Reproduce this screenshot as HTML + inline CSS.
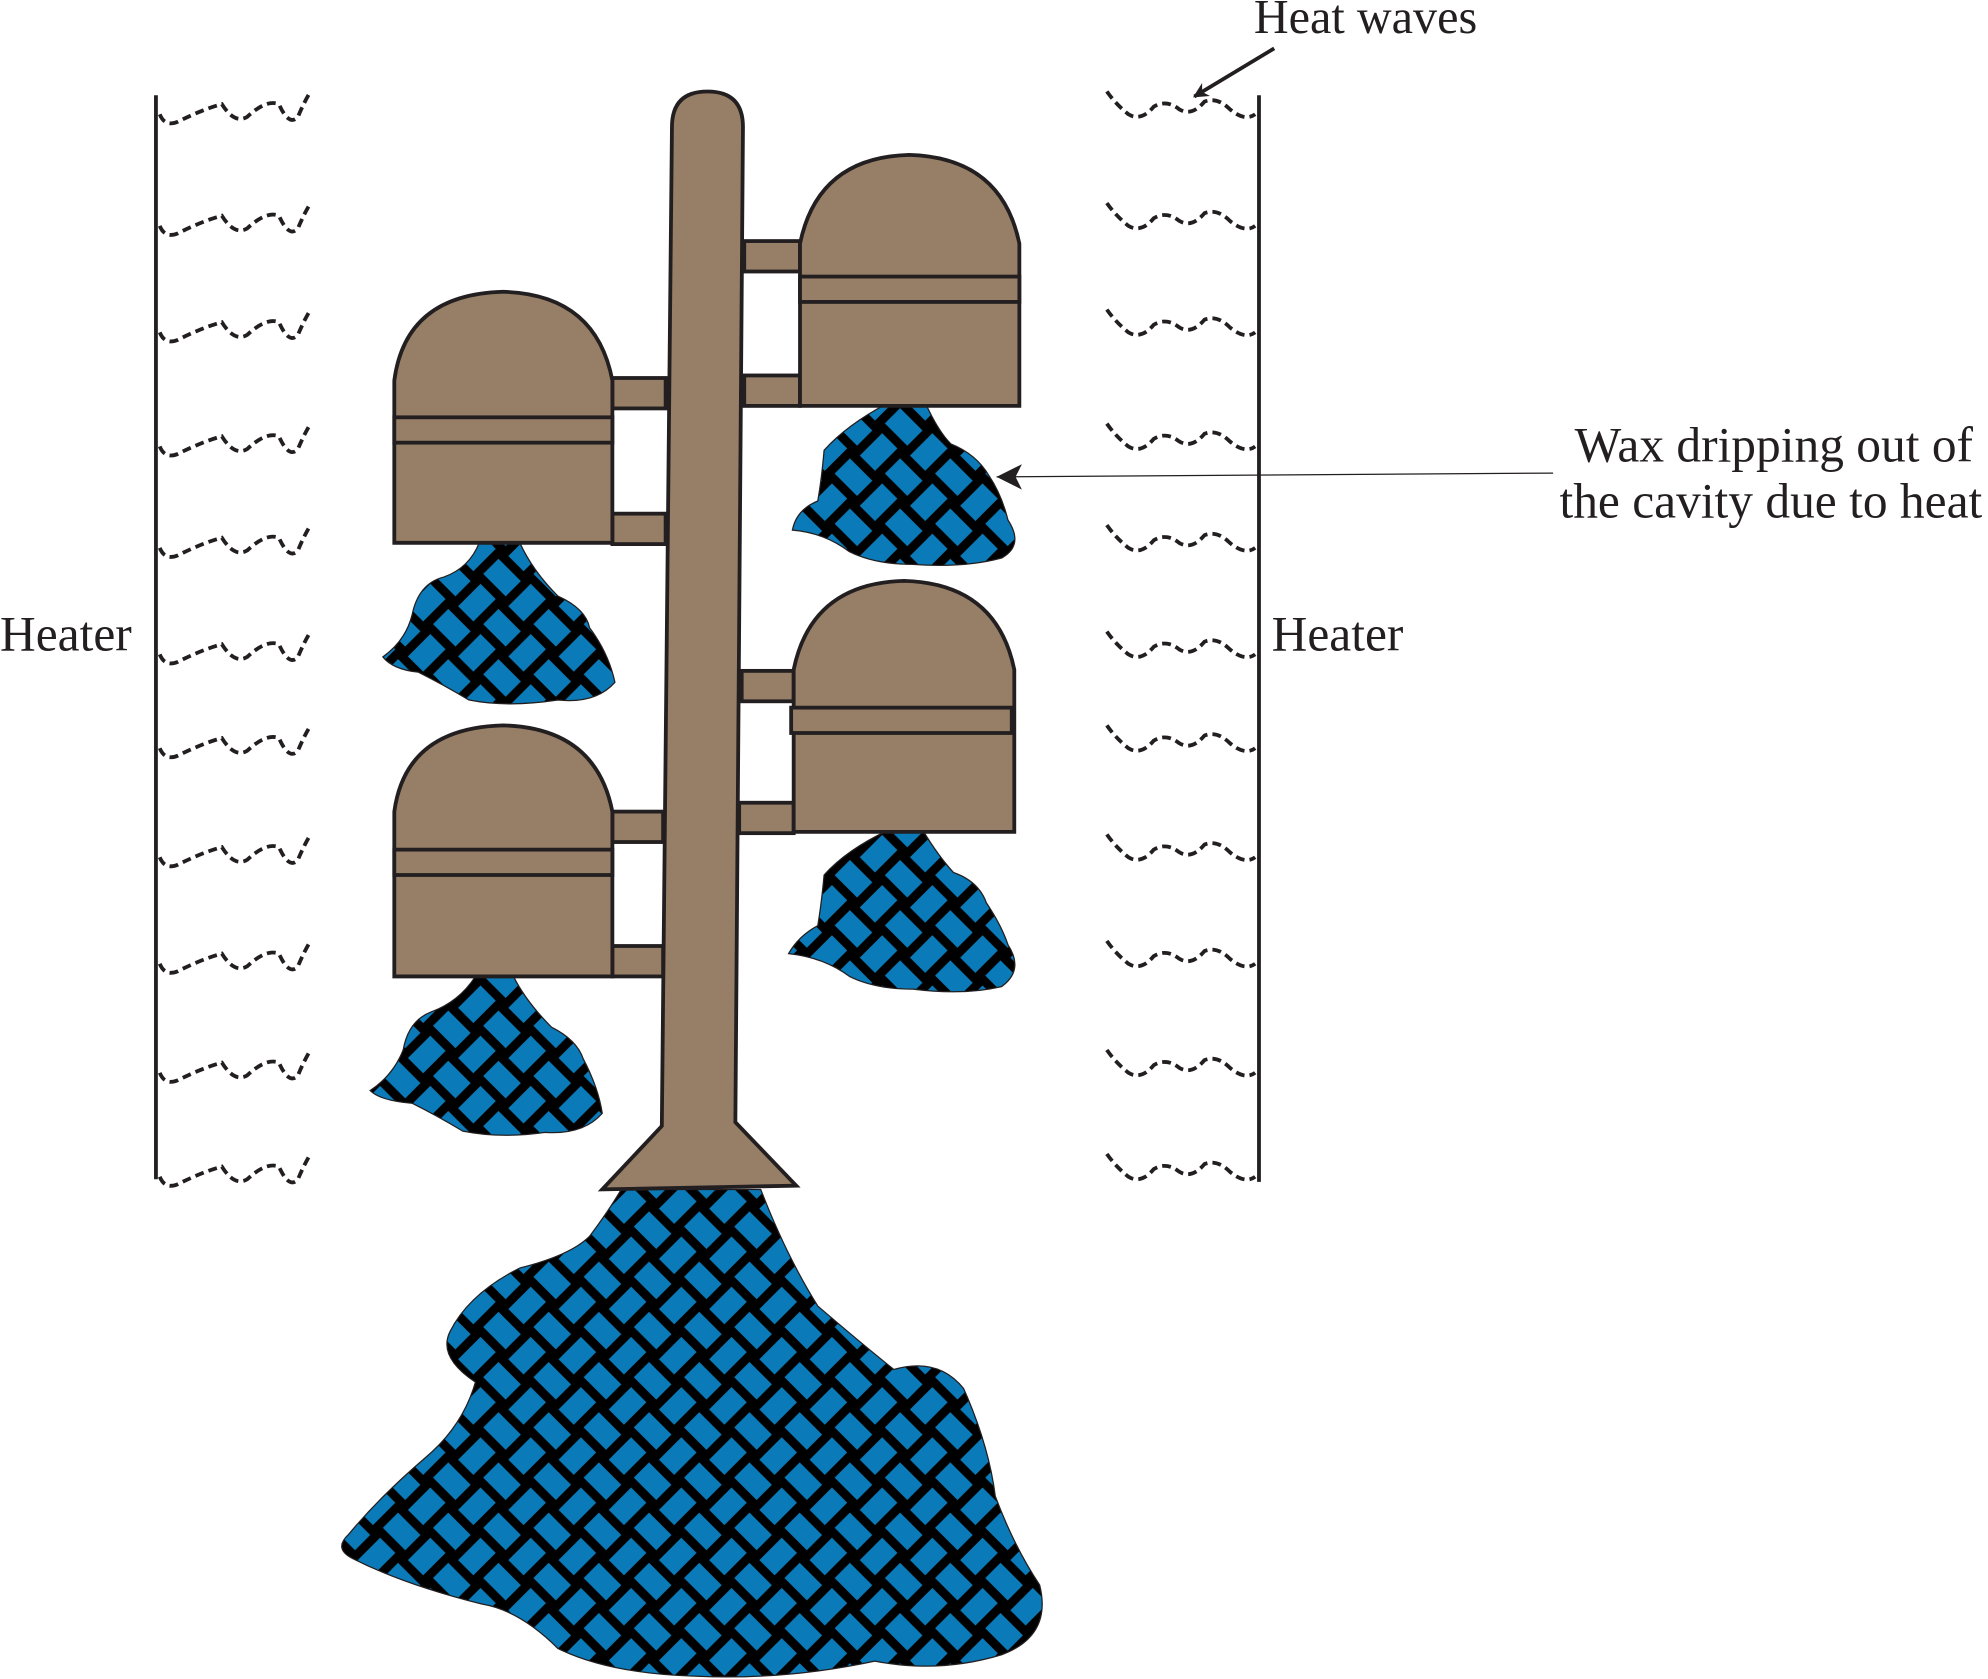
<!DOCTYPE html>
<html><head><meta charset="utf-8"><style>
html,body{margin:0;padding:0;background:#fff;}
svg{display:block;}
text{font-family:"Liberation Serif",serif;fill:#231f20;}
</style></head><body>
<svg width="1988" height="1679" viewBox="0 0 1568 1324" xmlns="http://www.w3.org/2000/svg">
<defs>
<pattern id="weave" width="56" height="56" patternUnits="userSpaceOnUse" patternTransform="rotate(45)">
<rect width="56" height="56" fill="#000"/>
<g fill="#0a7ab8" stroke="#000" stroke-width="1">
<rect x="1" y="5" width="26" height="18"/>
<rect x="33" y="1" width="18" height="26"/>
<rect x="5" y="29" width="18" height="26"/>
<rect x="29" y="33" width="26" height="18"/>
</g>
</pattern>
<marker id="ah" viewBox="0 0 10 10" refX="9" refY="5" markerWidth="12" markerHeight="12" orient="auto" markerUnits="userSpaceOnUse">
<path d="M0,0 L10,5 L0,10 L3,5 Z" fill="#231f20"/>
</marker>
</defs>

<line x1="123" y1="75" x2="123" y2="930" stroke="#231f20" stroke-width="3"/>
<line x1="993" y1="75" x2="993" y2="932" stroke="#231f20" stroke-width="3"/>

<g fill="none" stroke="#231f20" stroke-width="3" stroke-dasharray="7,4">
<g id="wl">
<path d="M126,90 Q130,100 140,96 Q160,86 175,82 Q185,98 195,92 Q210,78 220,82 Q228,100 235,92 Q240,80 245,72"/>
</g>
<use href="#wl" y="88"/><use href="#wl" y="172"/><use href="#wl" y="262"/><use href="#wl" y="342"/>
<use href="#wl" y="426"/><use href="#wl" y="500"/><use href="#wl" y="586"/><use href="#wl" y="670"/>
<use href="#wl" y="756"/><use href="#wl" y="838"/>
<g id="wr">
<path d="M873,72 Q880,82 890,90 Q900,96 910,84 Q920,78 930,86 Q940,92 950,80 Q960,76 970,86 Q982,96 990,90"/>
</g>
<use href="#wr" y="88"/><use href="#wr" y="172"/><use href="#wr" y="262"/><use href="#wr" y="342"/>
<use href="#wr" y="426"/><use href="#wr" y="500"/><use href="#wr" y="586"/><use href="#wr" y="670"/>
<use href="#wr" y="756"/><use href="#wr" y="838"/>
</g>

<g fill="url(#weave)" stroke="#231f20" stroke-width="1">
<path d="M378,428 L410,428 Q420,450 440,470 Q462,480 465,495 Q480,515 485,538 Q470,555 440,552 Q400,558 370,552 Q350,540 330,530 Q310,528 302,518 Q320,505 325,485 Q330,460 350,455 Q370,448 378,428Z"/>
<path d="M700,318 L730,318 Q740,340 750,350 Q770,358 780,375 Q790,390 795,410 Q808,430 790,440 Q760,448 720,445 Q690,445 670,435 Q650,420 625,418 Q628,402 645,395 Q648,378 650,355 Q668,335 700,318Z"/>
<path d="M700,655 L728,655 Q740,675 752,688 Q772,695 778,712 Q790,730 795,745 Q808,765 790,778 Q760,785 720,780 Q690,780 670,770 Q650,755 622,752 Q630,738 645,730 Q648,712 650,690 Q668,670 700,655Z"/>
<path d="M375,770 L405,770 Q415,790 435,810 Q455,820 460,835 Q472,858 475,878 Q460,895 430,893 Q395,898 365,892 Q345,880 325,870 Q300,868 292,860 Q310,848 318,828 Q322,805 340,798 Q362,790 375,770Z"/>
<path d="M490,938 L600,938 Q620,990 645,1030 Q680,1060 705,1080 Q740,1070 760,1095 Q780,1140 785,1180 Q800,1220 820,1250 Q830,1290 790,1305 Q740,1320 690,1310 Q620,1325 550,1322 Q480,1320 440,1300 Q410,1270 380,1265 Q320,1250 280,1230 Q262,1222 275,1210 Q300,1180 335,1150 Q365,1125 375,1090 Q345,1070 355,1050 Q370,1020 410,1000 Q450,990 465,975 Q480,955 490,938Z"/>
</g>

<path d="M530,100 Q530,72 558,72 Q586,72 586,100 L580,885 L628,935 L475,938 L522,888 Z" fill="#967f66" stroke="#231f20" stroke-width="3"/>

<g fill="#967f66" stroke="#231f20" stroke-width="3">
<rect x="483" y="298" width="42" height="24"/>
<rect x="483" y="405" width="42" height="24"/>
<path d="M311,428 L311,300 Q320,232 397,230 Q470,232 483,300 L483,428 Z"/>
<rect x="311" y="329" width="172" height="20"/>
</g>
<g fill="#967f66" stroke="#231f20" stroke-width="3">
<rect x="483" y="640" width="40" height="24"/>
<rect x="483" y="746" width="40" height="24"/>
<path d="M311,770 L311,640 Q320,574 397,572 Q470,574 483,640 L483,770 Z"/>
<rect x="311" y="670" width="172" height="20"/>
</g>
<g fill="#967f66" stroke="#231f20" stroke-width="3">
<rect x="587" y="190" width="44" height="24"/>
<rect x="587" y="296" width="44" height="24"/>
<path d="M631,320 L631,192 Q645,124 717,122 Q790,124 804,192 L804,320 Z"/>
<rect x="631" y="218" width="173" height="20"/>
</g>
<g fill="#967f66" stroke="#231f20" stroke-width="3">
<rect x="585" y="529" width="41" height="24"/>
<rect x="583" y="633" width="43" height="24"/>
<path d="M626,656 L626,528 Q640,460 713,458 Q786,460 800,528 L800,656 Z"/>
<rect x="624" y="558" width="174" height="20"/>
</g>

<text x="989" y="26" font-size="38">Heat waves</text>
<line x1="1005" y1="38" x2="942" y2="76" stroke="#231f20" stroke-width="3" marker-end="url(#ah)"/>
<text x="0" y="513" font-size="39">Heater</text>
<text x="1003" y="513" font-size="39">Heater</text>
<text x="1242" y="364" font-size="39">Wax dripping out of</text>
<text x="1230" y="408" font-size="39">the cavity due to heat</text>
<line x1="1225" y1="373" x2="786" y2="376" stroke="#231f20" stroke-width="1"/>
<path d="M786,376 L806,366 L801,376 L806,386 Z" fill="#231f20"/>
</svg>
</body></html>
